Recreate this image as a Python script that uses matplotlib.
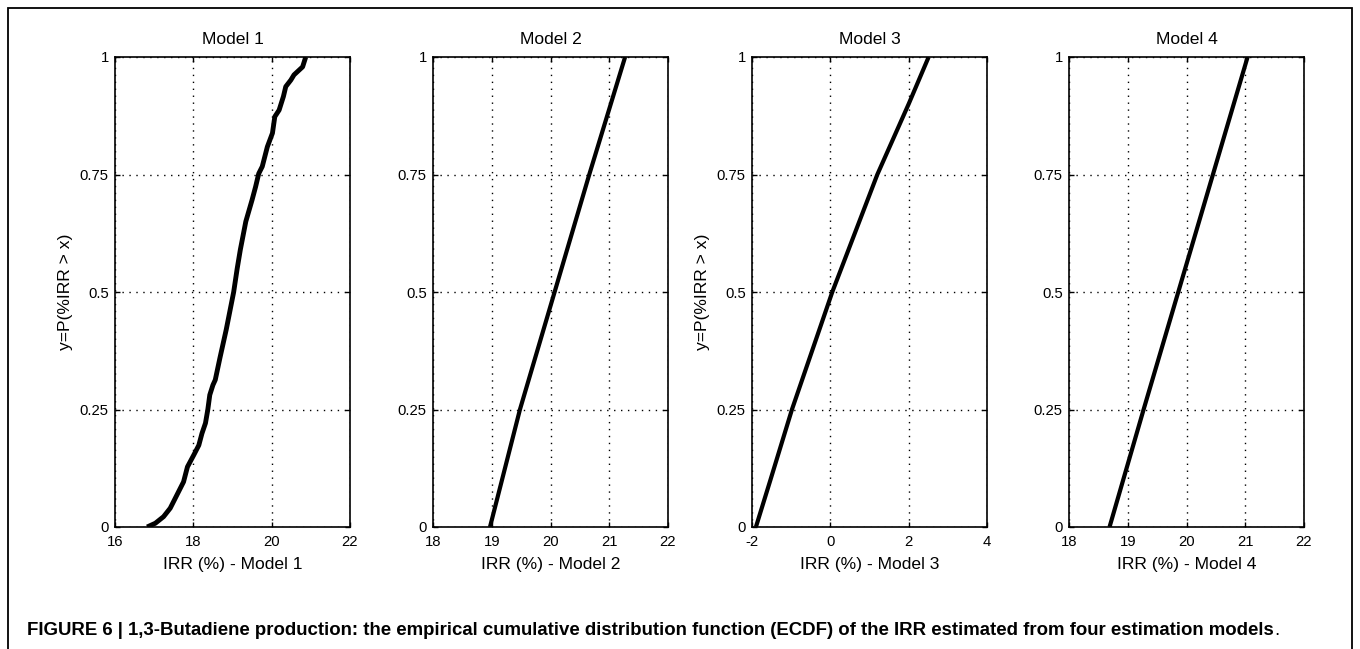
import matplotlib
matplotlib.use('Agg')
import matplotlib.pyplot as plt
import matplotlib.patches as patches

# --- Data ---
m1_irr = [16.82, 17.03, 17.24, 17.41, 17.58, 17.75, 17.85, 18.01, 18.14, 18.22,
          18.31, 18.37, 18.42, 18.50, 18.56, 18.68, 18.84, 19.03, 19.12, 19.20,
          19.34, 19.50, 19.59, 19.67, 19.76, 19.89, 20.02, 20.08, 20.19, 20.30,
          20.36, 20.49, 20.57, 20.79, 20.87]
m1_p = [0.0, 0.008, 0.022, 0.04, 0.068, 0.096, 0.128, 0.153, 0.174, 0.199,
        0.221, 0.25, 0.281, 0.302, 0.313, 0.36, 0.42, 0.5, 0.55, 0.59,
        0.65, 0.696, 0.724, 0.752, 0.767, 0.809, 0.838, 0.873, 0.887, 0.916,
        0.937, 0.951, 0.962, 0.979, 1.0]

m2_irr = [18.97, 19.48, 20.07, 20.66, 21.27]
m2_p = [0.0, 0.25, 0.5, 0.75, 1.0]

m3_irr = [-1.90, -1.53, -0.98, 0.05, 1.20, 2.00, 2.51]
m3_p = [0.0, 0.1, 0.25, 0.5, 0.75, 0.9, 1.0]

m4_irr = [18.69, 19.27, 19.86, 20.45, 21.04]
m4_p = [0.0, 0.25, 0.5, 0.75, 1.0]

titles = ['Model 1', 'Model 2', 'Model 3', 'Model 4']
xlabels = ['IRR (%) - Model 1', 'IRR (%) - Model 2', 'IRR (%) - Model 3', 'IRR (%) - Model 4']
xticks = [[16, 18, 20, 22], [18, 19, 20, 21, 22], [-2, 0, 2, 4], [18, 19, 20, 21, 22]]
yticks = [0, 0.25, 0.5, 0.75, 1]
ytick_labels = ['0', '0.25', '0.5', '0.75', '1']
ylabel = 'y=P(%IRR > x)'
series = [(m1_irr, m1_p), (m2_irr, m2_p), (m3_irr, m3_p), (m4_irr, m4_p)]

caption = ('FIGURE 6 | 1,3-Butadiene production: the empirical cumulative distribution '
           'function (ECDF) of the IRR estimated from four estimation models')

# --- Setup ---
plt.rcParams['font.family'] = ['Liberation Sans', 'DejaVu Sans']
plt.rcParams['axes.unicode_minus'] = False
W, H = 1360, 649
fig = plt.figure(figsize=(W / 100, H / 100), dpi=100)

lefts = [115, 433, 752, 1069]
ax_w, ax_top, ax_bot = 235, 57, 527

for i, (xs, ps) in enumerate(series):
    ax = fig.add_axes([lefts[i] / W, (H - ax_bot) / H, ax_w / W, (ax_bot - ax_top) / H])
    ax.plot(xs, ps, color='black', lw=3.5 if i == 0 else 3.0, solid_capstyle='butt', zorder=3)
    ax.set_xlim(xticks[i][0], xticks[i][-1])
    ax.set_ylim(0, 1)
    ax.set_xticks(xticks[i])
    ax.set_yticks(yticks)
    ax.set_yticklabels(ytick_labels)
    ax.grid(True, color='black', lw=1.0, linestyle=(0, (1, 4)))
    ax.tick_params(direction='in', length=3.6, width=1, top=True, right=True,
                   labelsize=10.7, colors='black')
    ax.tick_params(axis='x', pad=5.8)
    ax.tick_params(axis='y', pad=4.5)
    for s in ax.spines.values():
        s.set_linewidth(1.2)
    ax.set_title(titles[i], fontsize=12.6, pad=9.5)
    ax.set_xlabel(xlabels[i], fontsize=12.6, labelpad=5.5)
    if i in (0, 2):
        ax.set_ylabel(ylabel, fontsize=12.6, labelpad=5)

# --- Frame and caption ---
fig.add_artist(patches.Rectangle((8 / W, -0.05), (1352 - 8) / W, 1.05 - 8 / H,
                                 transform=fig.transFigure, fill=False,
                                 edgecolor='black', lw=1.3))

cap_y = (H - 635) / H
cap = fig.text(27 / W, cap_y, caption, fontsize=13.4, fontweight='bold',
               va='baseline', ha='left')
fig.canvas.draw()
bb = cap.get_window_extent()
fig.text(bb.x1 / W, cap_y, '.', fontsize=13.4, va='baseline', ha='left')

plt.savefig('out.png', dpi=100)
